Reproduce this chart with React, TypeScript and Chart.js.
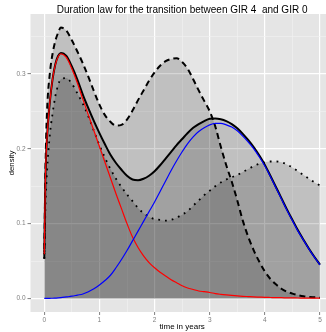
import React, { useEffect, useRef } from "react";
import { Chart, registerables } from "chart.js";

Chart.register(...registerables);

const TITLE = "Duration law for the transition between GIR 4  and GIR 0";
const X_TITLE = "time in years";
const Y_TITLE = "density";

const xs = [0, 0.02, 0.05, 0.1, 0.15, 0.2, 0.25, 0.3, 0.4, 0.5, 0.6, 0.7, 0.8, 0.9, 1.0, 1.1, 1.2, 1.3, 1.4, 1.5, 1.6, 1.7, 1.8, 1.9, 2.0, 2.1, 2.2, 2.3, 2.4, 2.5, 2.6, 2.7, 2.8, 2.9, 3.0, 3.1, 3.2, 3.3, 3.4, 3.5, 3.6, 3.7, 3.8, 3.9, 4.0, 4.1, 4.2, 4.3, 4.4, 4.5, 4.6, 4.7, 4.8, 4.9, 5.0];

const redComp = [0.059, 0.16, 0.215, 0.262, 0.293, 0.312, 0.323, 0.327, 0.322, 0.307, 0.288, 0.266, 0.245, 0.224, 0.203, 0.182, 0.161, 0.14, 0.12, 0.1, 0.082, 0.068, 0.057, 0.048, 0.041, 0.035, 0.03, 0.025, 0.021, 0.017, 0.014, 0.012, 0.01, 0.009, 0.008, 0.0065, 0.0055, 0.0047, 0.004, 0.0034, 0.0029, 0.0025, 0.0021, 0.0018, 0.0015, 0.0013, 0.0011, 0.001, 0.0008, 0.0007, 0.0006, 0.0005, 0.0004, 0.0004, 0.0003];

const blueComp = [0, 0, 0, 0.0002, 0.0003, 0.0005, 0.0007, 0.001, 0.002, 0.003, 0.0045, 0.006, 0.009, 0.013, 0.018, 0.024, 0.031, 0.041, 0.052, 0.064, 0.077, 0.09, 0.103, 0.116, 0.129, 0.143, 0.157, 0.171, 0.184, 0.196, 0.207, 0.216, 0.223, 0.228, 0.232, 0.234, 0.234, 0.232, 0.229, 0.224, 0.217, 0.209, 0.2, 0.189, 0.177, 0.163, 0.148, 0.133, 0.118, 0.104, 0.09, 0.078, 0.066, 0.055, 0.045];

const mixture = [0.059, 0.16, 0.215, 0.262, 0.293, 0.313, 0.324, 0.328, 0.324, 0.31, 0.2925, 0.272, 0.254, 0.237, 0.221, 0.206, 0.192, 0.181, 0.172, 0.164, 0.159, 0.158, 0.16, 0.164, 0.17, 0.178, 0.187, 0.196, 0.205, 0.213, 0.221, 0.228, 0.233, 0.237, 0.24, 0.2405, 0.2395, 0.237, 0.233, 0.2274, 0.22, 0.2115, 0.202, 0.191, 0.1785, 0.164, 0.149, 0.134, 0.119, 0.105, 0.091, 0.0785, 0.0664, 0.0554, 0.0453];

const upperBand = [0.053, 0.17, 0.25, 0.3, 0.327, 0.344, 0.355, 0.362, 0.358, 0.345, 0.33, 0.314, 0.296, 0.277, 0.259, 0.245, 0.236, 0.231, 0.232, 0.239, 0.251, 0.265, 0.278, 0.291, 0.302, 0.311, 0.317, 0.32, 0.321, 0.316, 0.307, 0.293, 0.278, 0.264, 0.25, 0.23, 0.203, 0.178, 0.156, 0.131, 0.104, 0.082, 0.064, 0.049, 0.036, 0.026, 0.019, 0.013, 0.009, 0.0065, 0.0045, 0.003, 0.002, 0.0015, 0.001];

const lowerBand = [0.053, 0.12, 0.17, 0.218, 0.247, 0.27, 0.285, 0.293, 0.2945, 0.287, 0.274, 0.26, 0.243, 0.224, 0.205, 0.188, 0.173, 0.16, 0.149, 0.139, 0.13, 0.121, 0.114, 0.109, 0.106, 0.105, 0.104, 0.105, 0.108, 0.112, 0.117, 0.124, 0.131, 0.138, 0.144, 0.15, 0.155, 0.159, 0.162, 0.165, 0.169, 0.173, 0.177, 0.18, 0.182, 0.183, 0.183, 0.182, 0.179, 0.175, 0.17, 0.165, 0.16, 0.155, 0.151];

const xMajor = [0, 1, 2, 3, 4, 5];
const xMinor = [0.5, 1.5, 2.5, 3.5, 4.5];
const xLabels = ["0", "1", "2", "3", "4", "5"];
const yMajor = [0, 0.1, 0.2, 0.3];
const yMinor = [0.05, 0.15, 0.25, 0.35];
const yLabels = ["0.0", "0.1", "0.2", "0.3"];

const W = 336;
const H = 332;
const FONT = "'Liberation Sans', Arial, Helvetica, sans-serif";

function majorIndex(v: number, arr: number[]) {
  for (let i = 0; i < arr.length; i++) if (Math.abs(arr[i] - v) < 1e-9) return i;
  return -1;
}

export default function App() {
  const ref = useRef<HTMLCanvasElement>(null);

  useEffect(() => {
    const canvas = ref.current;
    if (!canvas) return;
    const pts = (ys: number[]) => xs.map((x, i) => ({ x, y: ys[i] }));
    const fillCol = "rgba(0,0,0,0.16)";

    const panelBg = {
      id: "panelBg",
      beforeDraw(chart: any) {
        const { ctx, chartArea: a } = chart;
        ctx.save();
        ctx.fillStyle = "#E5E5E5";
        ctx.fillRect(a.left, a.top, a.right - a.left, a.bottom - a.top);
        ctx.restore();
      },
    };

    const gridCol = (arr: number[]) => (c: any) =>
      c.tick && majorIndex(c.tick.value, arr) >= 0 ? "#FFFFFF" : "#F2F2F2";
    const gridW = (arr: number[]) => (c: any) =>
      c.tick && majorIndex(c.tick.value, arr) >= 0 ? 1.2 : 0.6;
    const tickCol = (arr: number[]) => (c: any) =>
      c.tick && majorIndex(c.tick.value, arr) >= 0 ? "#7F7F7F" : "rgba(0,0,0,0)";

    const common = {
      pointRadius: 0,
      pointHoverRadius: 0,
      cubicInterpolationMode: "monotone" as const,
    };

    const chart = new Chart(canvas, {
      type: "line",
      data: {
        datasets: [
          { label: "component 2", data: pts(blueComp), borderColor: "#0000FF", borderWidth: 1.2, fill: false, ...common },
          { label: "component 1", data: pts(redComp), borderColor: "#FF0000", borderWidth: 1.2, fill: false, ...common },
          { label: "density", data: pts(mixture), borderColor: "#000000", borderWidth: 2, fill: "origin", backgroundColor: fillCol, ...common },
          { label: "lower", data: pts(lowerBand), borderColor: "#000000", borderWidth: 1.8, borderDash: [1.8, 5], fill: "origin", backgroundColor: fillCol, ...common },
          { label: "upper", data: pts(upperBand), borderColor: "#000000", borderWidth: 2, borderDash: [6, 4], fill: "origin", backgroundColor: fillCol, ...common },
        ],
      },
      options: {
        animation: false,
        responsive: false,
        devicePixelRatio: 1,
        events: [],
        layout: { padding: { left: 0, right: W - 333.8, top: 0, bottom: 0 } },
        plugins: {
          legend: { display: false },
          tooltip: { enabled: false },
          title: {
            display: true,
            text: TITLE,
            fullSize: false,
            color: "#000000",
            font: { family: FONT, size: 10, lineHeight: 0.84, weight: "normal" },
            padding: { top: 5.6, bottom: 0 },
          },
        },
        scales: {
          x: {
            type: "linear",
            min: -0.25,
            max: 5.25,
            afterBuildTicks: (s: any) => {
              s.ticks = [...xMajor, ...xMinor].sort((a, b) => a - b).map((v) => ({ value: v }));
            },
            afterFit: (s: any) => {
              s.height = 20;
            },
            ticks: {
              autoSkip: false,
              maxRotation: 0,
              padding: 1,
              color: "#7F7F7F",
              font: { family: FONT, size: 6.5 },
              callback: (v: any) => {
                const i = majorIndex(Number(v), xMajor);
                return i >= 0 ? xLabels[i] : "";
              },
            },
            grid: {
              color: gridCol(xMajor),
              lineWidth: gridW(xMajor),
              tickColor: tickCol(xMajor),
              tickLength: 3,
              tickWidth: 1,
            },
            border: { display: false },
            title: {
              display: true,
              text: X_TITLE,
              color: "#000000",
              font: { family: FONT, size: 8, lineHeight: 1.2 },
              padding: { top: 0, bottom: 0.2 },
            },
          },
          y: {
            type: "linear",
            min: -0.0181,
            max: 0.3801,
            afterBuildTicks: (s: any) => {
              s.ticks = [...yMajor, ...yMinor].sort((a, b) => a - b).map((v) => ({ value: v }));
            },
            afterFit: (s: any) => {
              s.width = 30.5;
            },
            ticks: {
              autoSkip: false,
              padding: 2,
              color: "#7F7F7F",
              font: { family: FONT, size: 6.5 },
              callback: (v: any) => {
                const i = majorIndex(Number(v), yMajor);
                return i >= 0 ? yLabels[i] : "";
              },
            },
            grid: {
              color: gridCol(yMajor),
              lineWidth: gridW(yMajor),
              tickColor: tickCol(yMajor),
              tickLength: 3,
              tickWidth: 1,
            },
            border: { display: false },
            title: {
              display: true,
              text: Y_TITLE,
              color: "#000000",
              font: { family: FONT, size: 7.8, lineHeight: 1.2 },
              padding: { top: 7, bottom: 0 },
            },
          },
        },
      },
      plugins: [panelBg],
    } as any);

    return () => chart.destroy();
  }, []);

  return (
    <div style={{ position: "fixed", left: 0, top: 0, width: 326, height: 332, overflow: "hidden", background: "#ffffff" }}>
      <canvas ref={ref} width={W} height={H} style={{ display: "block", width: W, height: H }} />
    </div>
  );
}
